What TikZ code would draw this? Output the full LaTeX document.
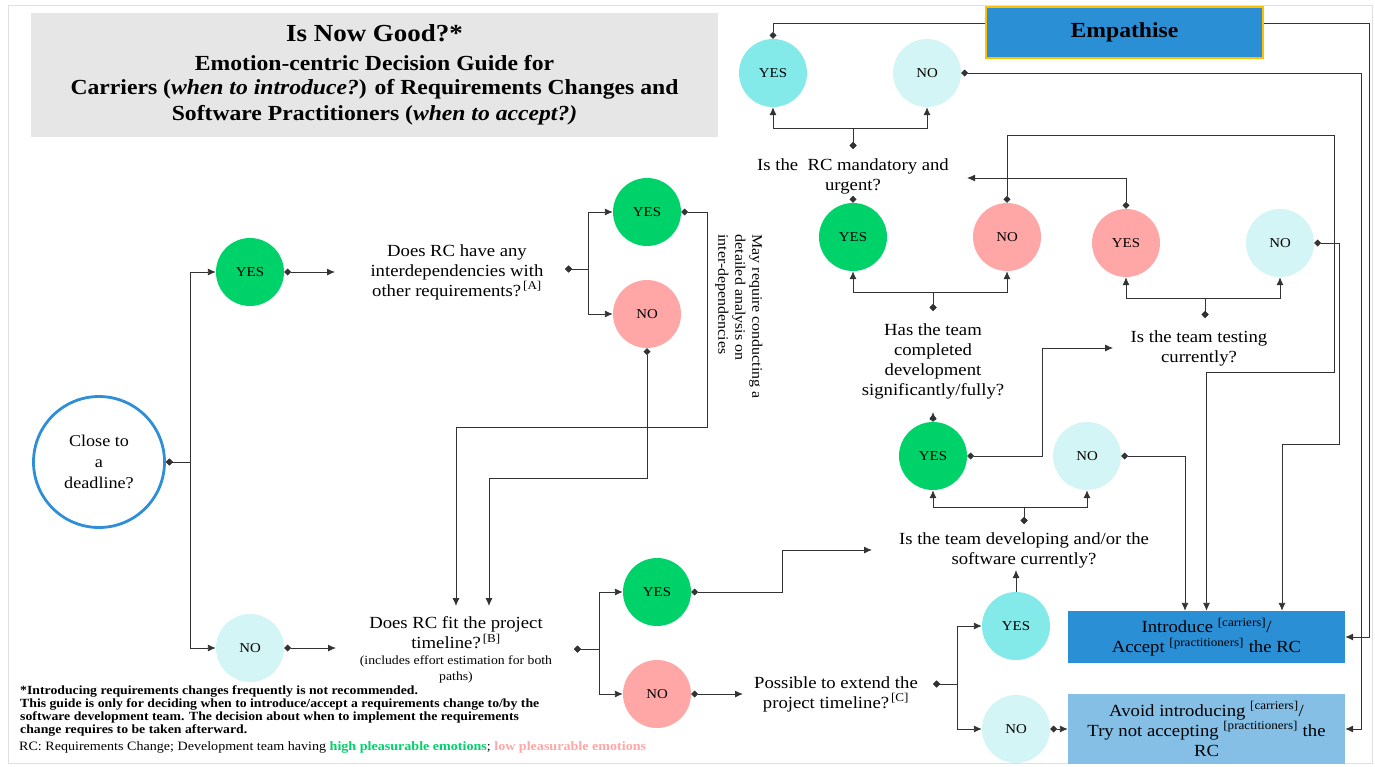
\documentclass[tikz,border=0pt]{standalone}
\usepackage{fontspec}
\setmainfont{Liberation Serif}[FakeStretch=1.1]
\usepackage{tikz}
\usetikzlibrary{arrows.meta,shapes}

\definecolor{hiGreen}{HTML}{00D26A}
\definecolor{loPink}{HTML}{FFA6A6}
\definecolor{ansCyan}{HTML}{83E9E9}
\definecolor{paleCyan}{HTML}{D4F5F5}
\definecolor{boxBlue}{HTML}{2B8FD6}
\definecolor{softBlue}{HTML}{85BFE6}
\definecolor{ringBlue}{HTML}{2E8FD8}
\definecolor{goldEdge}{HTML}{FFC000}
\definecolor{titleGray}{HTML}{E6E6E6}

\begin{document}
\begin{tikzpicture}[x=1pt, y=-1pt,
  link/.style={draw=black!80, line width=0.9pt,
    arrows={Diamond[length=7pt,width=7pt]-Latex[length=8pt,width=7pt]}},
  linkd/.style={draw=black!80, line width=0.9pt, arrows={Diamond[length=7pt,width=7pt]-}},
  linka/.style={draw=black!80, line width=0.9pt, arrows={-Latex[length=8pt,width=7pt]}},
  answer/.style={circle, minimum size=68pt, inner sep=0pt, font=\asize},
  hinode/.style={answer, fill=hiGreen},
  lonode/.style={answer, fill=loPink},
  cynode/.style={answer, fill=ansCyan},
  pcnode/.style={answer, fill=paleCyan},
  quest/.style={align=center, font=\qsize},
  outbox/.style={rectangle, minimum width=277pt, inner sep=0pt, align=center, font=\qsize}]

  \newcommand\qsize{\fontsize{17}{20}\selectfont}
  \newcommand\asize{\fontsize{13.5}{15}\selectfont}
  \newcommand\rcref[1]{\textsuperscript{\,[#1]}}

  \useasboundingbox (0,0) rectangle (1375,766);
  \draw[black!12] (8,5) rectangle (1372,763);

  %% title
  \node[fill=titleGray, minimum width=687pt, minimum height=124pt] (title) at (374.5,75) {};
  \node[font=\fontsize{24.5}{28}\selectfont\bfseries] (title1) at (374.5,33) {Is Now Good?*};
  \node[font=\fontsize{21.5}{25}\selectfont\bfseries] (title2) at (374.5,63) {Emotion-centric Decision Guide for};
  \node[font=\fontsize{21.5}{25}\selectfont\bfseries] (title3) at (374.5,89)
    {Carriers (\textit{when to introduce?}) of Requirements Changes and};
  \node[font=\fontsize{21.5}{25}\selectfont\bfseries] (title4) at (374.5,115)
    {Software Practitioners (\textit{when to accept?)}};

  %% start
  \node[circle, draw=ringBlue, line width=2.8pt, fill=white, minimum size=131pt, align=center,
    font=\fontsize{16.5}{21}\selectfont] (dl) at (99,462) {Close to\\a\\deadline?};
  \node[hinode] (dlyes) at (250,272) {YES};
  \node[pcnode] (dlno) at (250,648) {NO};

  %% interdependencies
  \node[quest] (qdep) at (457,272) {Does RC have any\\interdependencies with\\other requirements?\rcref{A}};
  \node[hinode] (depyes) at (647,212) {YES};
  \node[lonode] (depno) at (647,314) {NO};
  \node[rotate=-90, anchor=north west, align=left, font=\fontsize{14.5}{17}\selectfont] (depnote)
    at (766,231) {May require conducting a\\detailed analysis on\\inter-dependencies};

  %% timeline
  \node[quest] (qfit) at (456,633) {Does RC fit the project\\timeline?\rcref{B}};
  \node[align=center, font=\fontsize{12.5}{16}\selectfont] (qfitnote) at (456,669)
    {(includes effort estimation for both\\paths)};
  \node[hinode] (fityes) at (657,592) {YES};
  \node[lonode] (fitno) at (657,694) {NO};
  \node[quest] (qext) at (836,694) {Possible to extend the\\project timeline?\rcref{C}};
  \node[cynode] (extyes) at (1016,626) {YES};
  \node[pcnode] (extno) at (1016,729) {NO};

  %% team activity
  \node[quest] (qdev) at (1024,550) {Is the team developing and/or the\\software currently?};
  \node[hinode] (devyes) at (933,456) {YES};
  \node[pcnode] (devno) at (1087,456) {NO};
  \node[quest] (qcomp) at (933,361) {Has the team\\completed\\development\\significantly/fully?};
  \node[hinode] (compyes) at (853,237) {YES};
  \node[lonode] (compno) at (1007,237) {NO};
  \node[quest] (qtest) at (1199,348) {Is the team testing\\currently?};
  \node[lonode] (testyes) at (1126,243) {YES};
  \node[pcnode] (testno) at (1280,243) {NO};
  \node[quest] (qmand) at (853,176.5) {Is the~ RC mandatory and\\urgent?};
  \node[cynode] (mandyes) at (773,73) {YES};
  \node[pcnode] (mandno) at (927,73) {NO};

  %% outcomes
  \node[fill=boxBlue, draw=goldEdge, line width=2.5pt, minimum width=277pt, minimum height=51pt,
    font=\fontsize{21.5}{25}\selectfont\bfseries] (emp) at (1124.5,32.5) {Empathise};
  \node[outbox, fill=boxBlue, minimum height=52pt] (intro) at (1206.5,637)
    {Introduce \textsuperscript{[carriers]}/\\Accept \textsuperscript{[practitioners]} the RC};
  \node[outbox, fill=softBlue, minimum height=70pt] (avoid) at (1206.5,729)
    {Avoid introducing \textsuperscript{[carriers]}/\\Try not accepting \textsuperscript{[practitioners]} the\\RC};

  %% notes
  \node[anchor=north west, align=left, inner sep=0pt, font=\fontsize{12.5}{13}\selectfont\bfseries] (note)
    at (20,685) {*Introducing requirements changes frequently is not recommended.\\
    This guide is only for deciding when to introduce/accept a requirements change to/by the\\
    software development team. The decision about when to implement the requirements\\
    change requires to be taken afterward.};
  \node[anchor=west, inner sep=0pt, font=\fontsize{12.8}{14}\selectfont] (legend) at (19,747)
    {RC: Requirements Change; Development team having \textcolor{hiGreen}{\textbf{high pleasurable emotions}};
    \textcolor{loPink}{\textbf{low pleasurable emotions}}};

  %% deadline branch
  \draw[link] (dl.east) -- ++(25,0) |- (dlyes.west);
  \draw[link] (dl.east) -- ++(25,0) |- (dlno.west);
  \draw[link] (dlyes.east) -- ([xshift=-122pt]qdep.center);
  \draw[link] (dlno.east) -- ([xshift=-120pt,yshift=-15pt]qfit.center);

  %% interdependencies branch
  \draw[link] ([xshift=108pt,yshift=3pt]qdep.center) -- ++(23,0) |- (depyes.west);
  \draw[link] ([xshift=108pt,yshift=3pt]qdep.center) -- ++(23,0) |- (depno.west);
  \draw[link] (depyes.east) -| ++(26,215) -| ([yshift=27pt]qfit.center);
  \draw[link] (depno.south) -- ++(0,130) -| ([xshift=33pt,yshift=27pt]qfit.center);

  %% timeline branch
  \draw[link] ([xshift=118pt,yshift=-16pt]qfit.center) -- ++(25,0) |- (fityes.west);
  \draw[link] ([xshift=118pt,yshift=-16pt]qfit.center) -- ++(25,0) |- (fitno.west);
  \draw[link] (fityes.east) -- ++(91,0) |- ([xshift=-152pt]qdev.center);
  \draw[link] (fitno.east) -- ([xshift=-93pt]qext.center);
  \draw[link] ([xshift=97pt,yshift=10pt]qext.center) -- ++(24,0) |- (extyes.west);
  \draw[link] ([xshift=97pt,yshift=10pt]qext.center) -- ++(24,0) |- (extno.west);
  \draw[linka] (extyes.north) -- ([xshift=-8pt,yshift=-20pt]qdev.center);
  \draw[link] (extno.east) -- (avoid.west);

  %% developing
  \draw[link] ([yshift=26pt]qdev.center) -- ++(0,-17) -| (devyes.south);
  \draw[link] ([yshift=26pt]qdev.center) -- ++(0,-17) -| (devno.south);
  \draw[link] (devyes.north) -- ([yshift=-51pt]qcomp.center);
  \draw[link] (devyes.east) -- ++(75,0) |- ([xshift=-86pt]qtest.center);
  \draw[link] (devno.east) -| ([xshift=-21.5pt]intro.north);

  %% completed / testing
  \draw[link] ([yshift=50pt]qcomp.center) -- ++(0,-19) -| (compyes.south);
  \draw[link] ([yshift=50pt]qcomp.center) -- ++(0,-19) -| (compno.south);
  \draw[linkd] (compyes.north) -- (compyes.north |- qmand.south);
  \draw[link] (compno.north) -- ++(0,-67) -| ++(327,237) -| (intro.north);
  \draw[link] ([xshift=6pt,yshift=30pt]qtest.center) -- ++(0,-20) -| (testyes.south);
  \draw[link] ([xshift=6pt,yshift=30pt]qtest.center) -- ++(0,-20) -| (testno.south);
  \draw[link] (testyes.north) |- ([xshift=114pt,yshift=-1.5pt]qmand.center);
  \draw[link] (testno.east) -| ++(25,201) -| ([xshift=75.5pt]intro.north);

  %% mandatory
  \draw[link] ([yshift=27.5pt]qmand.center) -- ++(0,-21) -| (mandyes.south);
  \draw[link] ([yshift=27.5pt]qmand.center) -- ++(0,-21) -| (mandno.south);
  \draw[linkd] (mandyes.north) |- ([yshift=9.5pt]emp.west);
  \draw[linka] ([yshift=9.5pt]emp.east) -- ++(105,0) |- (intro.east);
  \draw[link] (mandno.east) -- ++(400,0) |- (avoid.east);
\end{tikzpicture}
\end{document}
